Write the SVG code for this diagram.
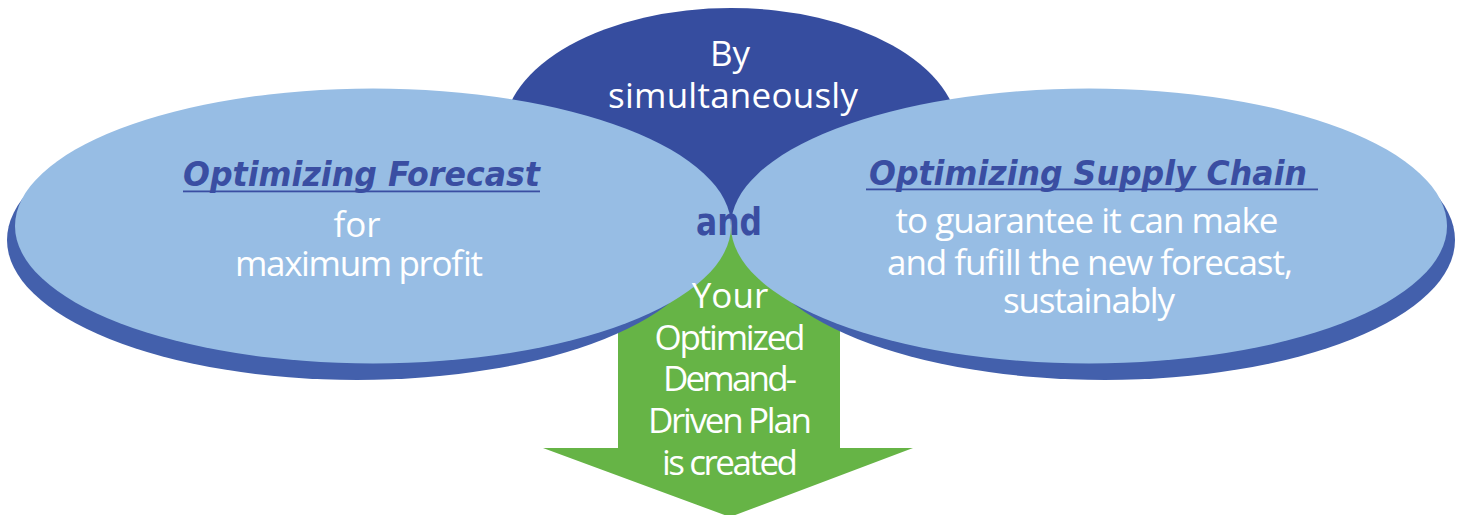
<svg xmlns="http://www.w3.org/2000/svg" width="1463" height="515" viewBox="0 0 1463 515">
<style>
.light{fill:#97BDE4}
.shadow{fill:#4360AC}
.dark{fill:#364D9F}
.green{fill:#66B446}
.body{font-family:"Open Sans","Noto Sans",sans-serif;font-size:35px;fill:#FFFFFF;text-anchor:middle}
.title{font-family:"DejaVu Sans","Liberation Sans",sans-serif;font-size:34px;font-weight:700;font-style:italic;fill:#3A4EA2}
.and{font-family:"DejaVu Sans","Liberation Sans",sans-serif;font-size:37px;font-weight:700;fill:#3A4EA2}
.ul{fill:#3A4EA2}
</style>
<rect width="1463" height="515" fill="#FFFFFF"/>
<g id="top-simultaneously">
<ellipse class="dark" cx="731" cy="135" rx="228" ry="127"/>
</g>
<g id="result-arrow">
<polygon class="green" points="618,225 840,225 840,448 913,448 730,517 543,448 618,448"/>
</g>
<g id="forecast">
<ellipse class="shadow" cx="357" cy="240" rx="350" ry="140"/>
</g>
<g id="supply-chain">
<ellipse class="shadow" cx="1105" cy="240" rx="350" ry="140"/>
</g>
<g id="forecast-face">
<ellipse class="light" cx="373" cy="226" rx="358" ry="137.5"/>
<text class="title" x="183" y="186" textLength="357" lengthAdjust="spacingAndGlyphs">Optimizing Forecast</text>
<rect class="ul" x="183" y="190.5" width="357" height="1.8"/>
<text class="body" x="357" y="237">for</text>
<text class="body" x="359" y="276" textLength="248">maximum profit</text>
</g>
<g id="supply-chain-face">
<ellipse class="light" cx="1089" cy="226" rx="358" ry="137.5"/>
<text class="title" x="869" y="185" textLength="438" lengthAdjust="spacingAndGlyphs">Optimizing Supply Chain</text>
<rect class="ul" x="866" y="188.5" width="452" height="1.8"/>
<text class="body" x="1087" y="233" textLength="383">to guarantee it can make</text>
<text class="body" x="1090" y="275" textLength="406">and fufill the new forecast,</text>
<text class="body" x="1089" y="313" textLength="172">sustainably</text>
</g>
<g id="top-text">
<text class="body" x="730" y="66">By</text>
<text class="body" x="733" y="108" textLength="250">simultaneously</text>
</g>
<g id="and-label">
<text class="and" x="696" y="235" textLength="66" lengthAdjust="spacingAndGlyphs">and</text>
</g>
<g id="arrow-text">
<text class="body" x="730" y="308">Your</text>
<text class="body" x="730" y="350" textLength="151">Optimized</text>
<text class="body" x="730" y="391" textLength="134">Demand-</text>
<text class="body" x="730" y="433" textLength="164">Driven Plan</text>
<text class="body" x="730" y="475" textLength="136">is created</text>
</g>
<g id="connectors"></g>
</svg>
